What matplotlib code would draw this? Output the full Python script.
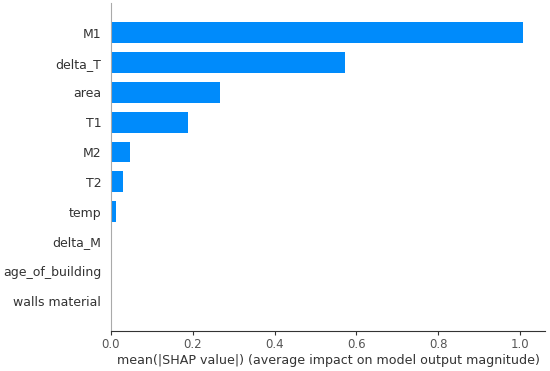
import numpy as np
import matplotlib
matplotlib.use('Agg')
from matplotlib import pyplot as plt

# feature names, top to bottom as shown
features = ['M1', 'delta_T', 'area', 'T1', 'M2', 'T2', 'temp',
            'delta_M', 'age_of_building', 'walls material']
# mean(|SHAP value|)
mean_shap = [1.008, 0.571, 0.266, 0.189, 0.047, 0.029, 0.013,
             0.003, 0.003, 0.0]
xticks = [0.0, 0.2, 0.4, 0.6, 0.8, 1.0]

fig = plt.figure(figsize=(5.5, 3.71), dpi=100)
ax = fig.add_axes([0.2018, 0.108, 0.789, 0.884])

ypos = np.arange(len(features))[::-1]
ax.barh(ypos, mean_shap, height=0.7, color='#008bfb', align='center')

ax.set_yticks(ypos)
ax.set_yticklabels(features, fontsize=9, color='#333333')
ax.set_xticks(xticks)
ax.set_xticklabels(['%.1f' % t for t in xticks], fontsize=8.5, color='#555555')
ax.set_xlim(0, 1.061)
ax.set_ylim(-1, len(features))
ax.set_xlabel('mean(|SHAP value|) (average impact on model output magnitude)',
              fontsize=9.1, color='#333333', labelpad=2)

ax.spines['top'].set_visible(False)
ax.spines['right'].set_visible(False)
ax.spines['left'].set_color('#aaaaaa')
ax.spines['bottom'].set_color('#333333')
ax.tick_params(axis='y', length=0, pad=7)
ax.tick_params(axis='x', color='#333333', length=3, pad=2)

fig.savefig('out.png', dpi=100)
